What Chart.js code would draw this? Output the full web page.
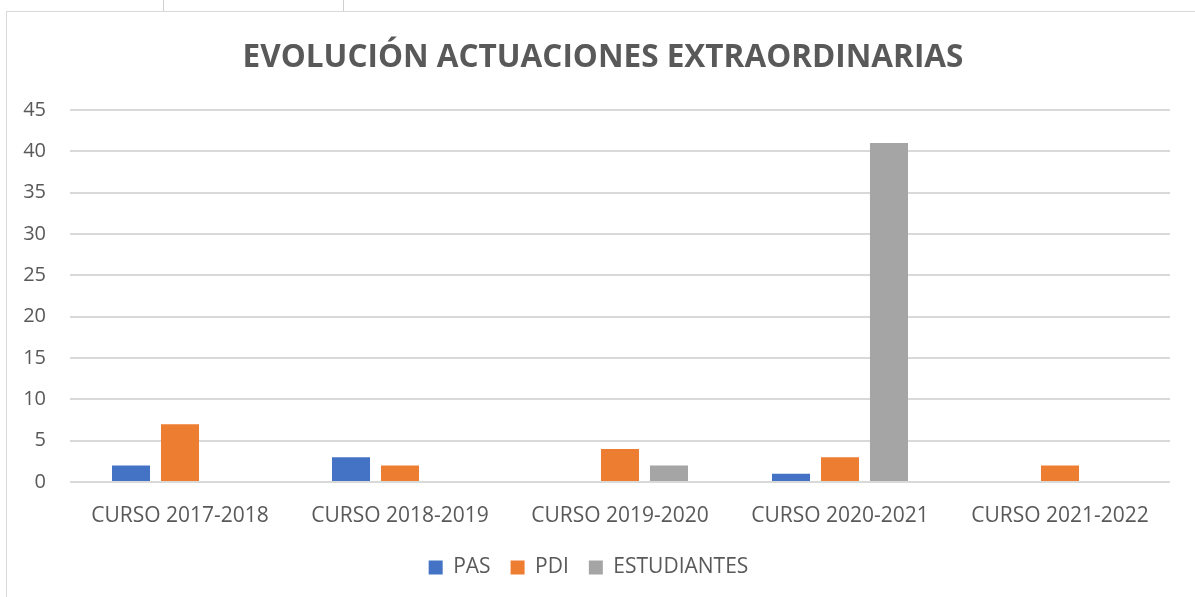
<!DOCTYPE html>
<html lang="es">
<head>
<meta charset="utf-8">
<title>Evolución actuaciones extraordinarias</title>
<style>
    body, html { margin: 0; background: #fff; }
    #marco {
        position: absolute; left: 6px; top: 11px;
        width: 1200px; height: 600px;
        border-left: 1px solid #d9d9d9; border-top: 1px solid #d9d9d9;
    }
    #grafico { position: absolute; left: 7px; top: 12px; width: 1188px; height: 585px; }
    .sello { position: absolute; top: 0; width: 1px; height: 11px; background: #d0d0d0; }
</style>
<script src="https://cdn.jsdelivr.net/npm/chart.js"></script>
</head>
<body>
<div class="sello" style="left:163px"></div>
<div class="sello" style="left:343px"></div>
<div id="marco"></div>
<div id="grafico"><canvas id="lienzo"></canvas></div>
<script>
// datos por curso
var cursos = ['CURSO 2017-2018', 'CURSO 2018-2019', 'CURSO 2019-2020', 'CURSO 2020-2021', 'CURSO 2021-2022'];
var pas = [2, 3, 0, 1, 0];
var pdi = [7, 2, 4, 3, 2];
var estudiantes = [0, 0, 2, 41, 0];

var titulo = 'EVOLUCIÓN ACTUACIONES EXTRAORDINARIAS';
var fuente = '"Open Sans", "Liberation Sans", sans-serif';
var gris = '#595959';

// el título va centrado en todo el lienzo, no sólo en la zona con padding
var tituloCentrado = {
    id: 'tituloCentrado',
    afterDraw: function (chart) {
        var ctx = chart.ctx;
        ctx.save();
        ctx.font = 'bold 31.5px ' + fuente;
        ctx.fillStyle = gris;
        ctx.textAlign = 'center';
        ctx.textBaseline = 'middle';
        ctx.fillText(titulo, chart.width / 2 + 2, 46);
        ctx.restore();
    }
};

new Chart(document.getElementById('lienzo').getContext('2d'), {
    type: 'bar',
    data: {
        labels: cursos,
        datasets: [
            { label: 'PAS', data: pas, backgroundColor: '#4472c4' },
            { label: 'PDI', data: pdi, backgroundColor: '#ed7d31' },
            { label: 'ESTUDIANTES', data: estudiantes, backgroundColor: '#a5a5a5' }
        ]
    },
    plugins: [tituloCentrado],
    options: {
        responsive: true,
        maintainAspectRatio: false,
        animation: false,
        datasets: { bar: { categoryPercentage: 0.668, barPercentage: 0.776 } },
        layout: { padding: { left: 0, right: 25, top: 98, bottom: 9 } },
        plugins: {
            legend: {
                position: 'bottom',
                labels: {
                    color: gris,
                    font: { family: fuente, size: 21 },
                    boxWidth: 14, boxHeight: 14,
                    padding: 20
                }
            },
            tooltip: { enabled: false }
        },
        scales: {
            x: {
                grid: { display: false },
                border: { display: false },
                ticks: { color: gris, font: { family: fuente, size: 21 }, padding: 13, maxRotation: 0 },
                afterFit: function (s) { s.height = 55; }
            },
            y: {
                min: 0, max: 45,
                ticks: { stepSize: 5, color: gris, font: { family: fuente, size: 20 }, padding: 24 },
                grid: { color: '#d9d9d9', lineWidth: 2, drawTicks: false },
                border: { display: false },
                afterFit: function (s) { s.width = 63; }
            }
        }
    }
});
</script>
</body>
</html>
